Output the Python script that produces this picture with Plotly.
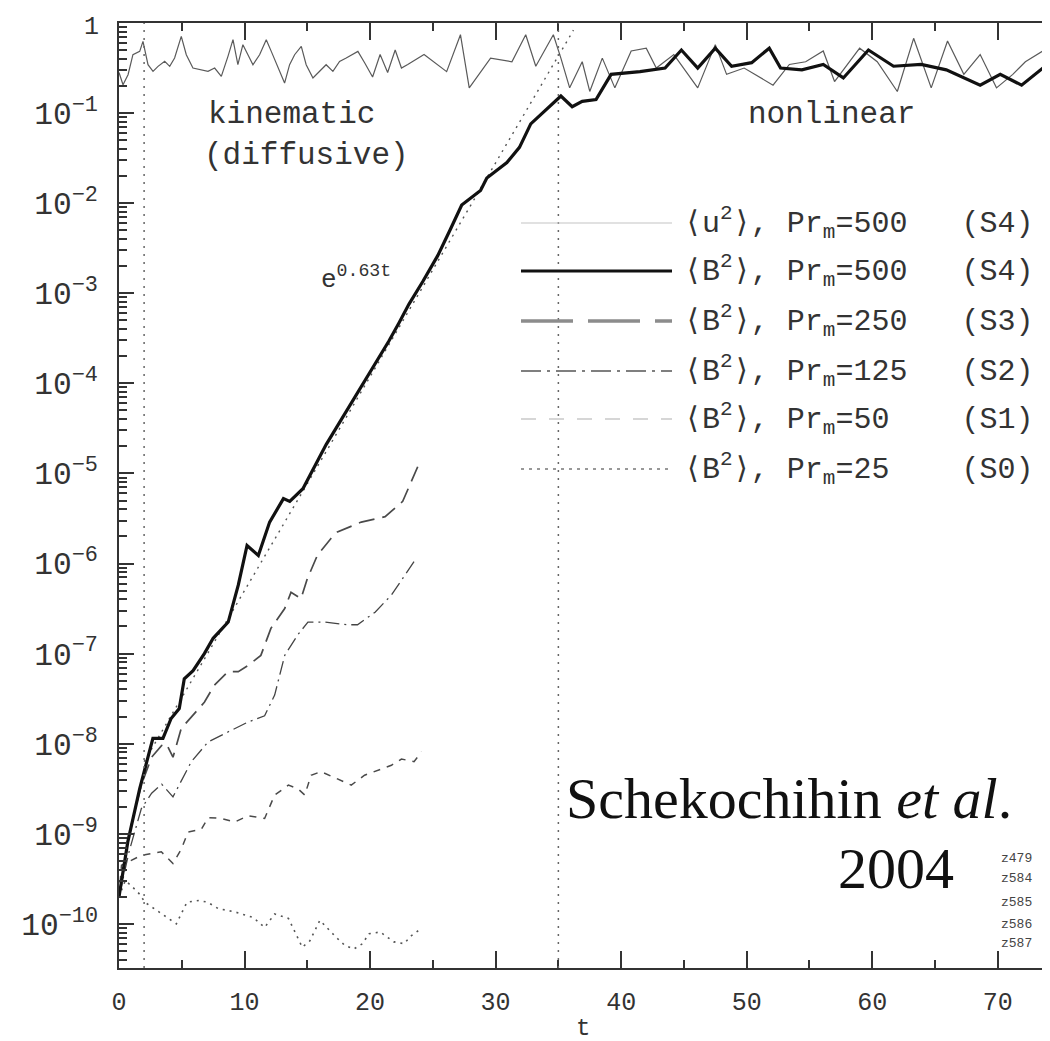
import plotly.graph_objects as go

# ---------------- data (t, log10 of the quantity) ----------------
t_u2 = [0, 0.32, 0.72, 1.11, 1.65, 1.91, 2.31, 2.71, 3.11, 3.64, 4.04, 4.43, 4.96, 5.36, 5.89, 6.42,
        7.09, 7.62, 8.15, 8.68, 9.08, 9.47, 9.87, 10.27, 10.67, 11.2, 11.73, 12.13, 12.66, 13.19,
        13.59, 13.99, 14.52, 14.91, 15.45, 15.98, 16.5, 17.04, 17.57, 18.1, 19.03, 19.6, 20.2,
        20.8, 21.4, 22.0, 22.5, 23.0, 24.3, 26.1, 27.2, 27.9, 29.6, 31.3, 32.4, 33.2, 34.6, 35.2,
        35.9, 36.9, 37.5, 38.5, 39.5, 40.8, 42.0, 42.8, 44.2, 46.1, 47.5, 48.4, 49.8, 52.1, 53.4,
        54.7, 56.1, 57.0, 59.0, 60.4, 62.0, 63.3, 64.7, 66.0, 67.3, 68.6, 69.9, 71.2, 72.2, 73.6, 74.8]
u2_log = [-0.55, -0.685, -0.574, -0.352, -0.315, -0.204, -0.463, -0.537, -0.481, -0.426, -0.481,
          -0.389, -0.148, -0.352, -0.5, -0.519, -0.537, -0.5, -0.593, -0.37, -0.185, -0.463, -0.241,
          -0.352, -0.463, -0.352, -0.185, -0.315, -0.5, -0.667, -0.463, -0.352, -0.259, -0.463,
          -0.611, -0.537, -0.463, -0.537, -0.426, -0.389, -0.315, -0.45, -0.6, -0.35, -0.55, -0.3,
          -0.5, -0.46, -0.35, -0.54, -0.13, -0.72, -0.39, -0.43, -0.13, -0.48, -0.13, -0.39, -0.72,
          -0.43, -0.76, -0.39, -0.72, -0.31, -0.28, -0.5, -0.35, -0.72, -0.24, -0.57, -0.5, -0.69,
          -0.46, -0.43, -0.31, -0.65, -0.28, -0.43, -0.76, -0.17, -0.72, -0.2, -0.57, -0.35, -0.72,
          -0.57, -0.43, -0.31, -0.5]

t_s4 = [0, 0.7, 1.65, 2.44, 2.7, 3.5, 4.15, 4.8, 5.2, 5.9, 6.8, 7.5, 8.7, 9.5, 10.2, 11.1, 12.0,
        13.1, 13.6, 14.65, 15.5, 16.5, 17.5, 18.5, 19.5, 20.5, 21.5, 22.3, 23.1, 24.2, 25.4, 26.4,
        27.3, 28.8, 29.3, 30.9, 31.9, 32.8, 34.1, 35.2, 36.1, 36.9, 38.0, 39.2, 41.5, 43.5, 44.8,
        46.1, 47.5, 48.8, 50.4, 51.8, 52.7, 54.4, 56.1, 57.7, 59.7, 61.7, 63.9, 65.9, 68.6, 70.2,
        71.9, 73.6, 74.8]
s4_log = [-9.7, -9.09, -8.5, -8.09, -7.94, -7.94, -7.72, -7.61, -7.28, -7.19, -7.0, -6.83, -6.65,
          -6.24, -5.8, -5.91, -5.54, -5.28, -5.31, -5.17, -4.95, -4.68, -4.45, -4.22, -4.0, -3.77,
          -3.53, -3.33, -3.12, -2.87, -2.58, -2.29, -2.02, -1.86, -1.72, -1.55, -1.38, -1.12, -0.95,
          -0.81, -0.93, -0.87, -0.85, -0.57, -0.54, -0.5, -0.3, -0.5, -0.28, -0.48, -0.44, -0.28,
          -0.5, -0.52, -0.46, -0.61, -0.3, -0.48, -0.46, -0.52, -0.69, -0.57, -0.69, -0.5, -0.57]

t_s3 = [0, 0.8, 1.8, 2.6, 3.4, 3.77, 4.3, 4.96, 6.8, 7.6, 8.68, 9.5, 10.3, 11.3, 12.1, 13.2, 13.7,
        14.5, 15.0, 15.8, 16.9, 17.4, 19.3, 21.2, 22.6, 24.0]
s3_log = [-9.7, -9.0, -8.45, -8.15, -8.02, -8.0, -8.15, -7.83, -7.54, -7.35, -7.2, -7.2, -7.13,
          -7.02, -6.72, -6.5, -6.32, -6.39, -6.17, -5.91, -5.72, -5.65, -5.54, -5.48, -5.31, -4.86]

t_s2 = [0, 0.8, 1.78, 2.6, 3.4, 4.3, 5.76, 7.1, 8.68, 10.27, 11.6, 12.4, 13.2, 14.25, 15.05, 16.4,
        18.2, 19.0, 20.4, 21.7, 23.5]
s2_log = [-9.7, -9.2, -8.72, -8.55, -8.45, -8.59, -8.2, -7.98, -7.87, -7.76, -7.69, -7.46, -7.02,
          -6.79, -6.65, -6.65, -6.68, -6.68, -6.54, -6.35, -5.98]

t_s1 = [0, 0.2, 1.78, 3.37, 4.3, 4.96, 5.5, 6.56, 7.1, 8.15, 9.2, 10.3, 11.6, 12.4, 13.5, 14.25,
        14.8, 15.3, 16.1, 17.4, 18.5, 19.56, 20.4, 21.7, 22.5, 23.5, 24.1]
s1_log = [-9.7, -9.35, -9.24, -9.2, -9.33, -9.17, -8.98, -8.95, -8.82, -8.83, -8.87, -8.8, -8.83,
          -8.57, -8.46, -8.5, -8.57, -8.35, -8.31, -8.39, -8.46, -8.35, -8.31, -8.24, -8.17, -8.2,
          -8.09]

t_s0 = [0, 0.5, 1.0, 1.64, 2.06, 3.45, 4.57, 5.41, 6.37, 7.06, 7.9, 9.3, 10.7, 11.6, 12.4, 13.5,
        14.6, 15.2, 16.0, 17.3, 18.0, 18.7, 19.4, 19.9, 20.8, 21.9, 22.7, 23.3, 24.0]
s0_log = [-9.7, -9.52, -9.58, -9.67, -9.76, -9.89, -10.0, -9.76, -9.74, -9.76, -9.83, -9.87, -9.93,
          -10.04, -9.89, -9.94, -10.26, -10.19, -9.96, -10.15, -10.24, -10.28, -10.22, -10.11,
          -10.09, -10.2, -10.22, -10.13, -10.06]

# exponential fit e^{0.63 t}: two end points
t_fit = [2.0, 36.2]
fit_log = [-8.2, -0.08]

phase_boundaries = [2, 35]

legend_labels = [
    "⟨u<sup>2</sup>⟩, Pr<sub>m</sub>=500\u00a0\u00a0\u00a0(S4)",
    "⟨B<sup>2</sup>⟩, Pr<sub>m</sub>=500\u00a0\u00a0\u00a0(S4)",
    "⟨B<sup>2</sup>⟩, Pr<sub>m</sub>=250\u00a0\u00a0\u00a0(S3)",
    "⟨B<sup>2</sup>⟩, Pr<sub>m</sub>=125\u00a0\u00a0\u00a0(S2)",
    "⟨B<sup>2</sup>⟩, Pr<sub>m</sub>=50\u00a0\u00a0\u00a0\u00a0(S1)",
    "⟨B<sup>2</sup>⟩, Pr<sub>m</sub>=25\u00a0\u00a0\u00a0\u00a0(S0)",
]
run_ids = ["z479", "z584", "z585", "z586", "z587"]

# ---------------- figure ----------------
W, H = 1050, 1041
L, R, T, B = 111, 0, 15, 81
FONT = "Liberation Mono, DejaVu Sans Mono, monospace"


def pv(vals):
    return [10 ** v for v in vals]


def px(x):
    return (x - L) / (W - L - R)


def py(y):
    return (H - B - y) / (H - T - B)


fig = go.Figure()

curve_styles = [
    (t_u2, u2_log, dict(color="#5a5a5a", width=1.2)),
    (t_s0, s0_log, dict(color="#555555", width=1.6, dash="2px,5px")),
    (t_s1, s1_log, dict(color="#4a4a4a", width=1.5, dash="7px,7px")),
    (t_s2, s2_log, dict(color="#444444", width=1.3, dash="14px,5px,2px,5px")),
    (t_s3, s3_log, dict(color="#4a4a4a", width=1.7, dash="16px,8px")),
    (t_fit, fit_log, dict(color="#555555", width=1.4, dash="2px,5px")),
    (t_s4, s4_log, dict(color="#111111", width=3.2)),
]
for tx, ly, ln in curve_styles:
    fig.add_trace(go.Scatter(x=tx, y=pv(ly), mode="lines", line=ln, showlegend=False,
                             hoverinfo="skip"))

shapes = []
for xb in phase_boundaries:
    shapes.append(dict(type="line", xref="x", yref="paper", x0=xb, x1=xb, y0=0, y1=1,
                       line=dict(color="#666666", width=1.5, dash="2px,6px")))

# manual legend samples
leg_rows = [215, 263, 313, 363, 411, 461]
leg_styles = [
    dict(color="#c4c4c4", width=1.2),
    dict(color="#111111", width=3.2),
    dict(color="#8c8c8c", width=3.4, dash="52px,15px"),
    dict(color="#555555", width=1.3, dash="20px,6px,3px,6px"),
    dict(color="#d6d6d6", width=1.8, dash="15px,13px"),
    dict(color="#777777", width=1.4, dash="3px,5px"),
]
for yr, st in zip(leg_rows, leg_styles):
    shapes.append(dict(type="line", xref="paper", yref="paper", x0=px(513), x1=px(664),
                       y0=py(yr), y1=py(yr), line=st))

annotations = []
for yr, lab in zip(leg_rows, legend_labels):
    annotations.append(dict(text=lab, x=px(674), y=py(yr), xanchor="left", yanchor="middle",
                            font=dict(family=FONT, size=30, color="#333333")))

annotations += [
    dict(text="1", x=px(93), y=py(19), xanchor="right", yanchor="middle",
         font=dict(family=FONT, size=25, color="#333333")),
    dict(text="kinematic", x=px(198), y=py(106), xanchor="left", yanchor="middle",
         font=dict(family=FONT, size=31, color="#333333")),
    dict(text="(diffusive)", x=px(194), y=py(148), xanchor="left", yanchor="middle",
         font=dict(family=FONT, size=31, color="#333333")),
    dict(text="nonlinear", x=px(738), y=py(106), xanchor="left", yanchor="middle",
         font=dict(family=FONT, size=31, color="#333333")),
    dict(text="e<sup>0.63t</sup>", x=px(311), y=py(270), xanchor="left", yanchor="middle",
         font=dict(family=FONT, size=26, color="#333333")),
    dict(text="Schekochihin <i>et al</i>.", x=px(556), y=py(790), xanchor="left",
         yanchor="middle", font=dict(family="Liberation Serif, serif", size=58, color="#111111")),
    dict(text="2004", x=px(828), y=py(860), xanchor="left", yanchor="middle",
         font=dict(family="Liberation Serif, serif", size=58, color="#111111")),
    dict(text="t", x=px(575), y=py(1036), xanchor="center", yanchor="bottom",
         font=dict(family=FONT, size=24, color="#333333")),
]
for i, rid in enumerate(run_ids):
    annotations.append(dict(text=rid, x=px(991), y=py([850, 870, 894, 916, 935][i]),
                            xanchor="left", yanchor="middle",
                            font=dict(family=FONT, size=13, color="#444444")))
for a in annotations:
    a.setdefault("xref", "paper")
    a.setdefault("yref", "paper")
    a.setdefault("showarrow", False)

axis_common = dict(
    showline=True, linecolor="#333333", linewidth=2, mirror="allticks",
    ticks="inside", tickcolor="#333333", tickwidth=1.5,
    showgrid=False, zeroline=False, automargin=False,
    tickfont=dict(family=FONT, size=25, color="#333333"),
)

fig.update_layout(
    width=W, height=H,
    margin=dict(l=L, r=R, t=T, b=B),
    paper_bgcolor="white", plot_bgcolor="white",
    shapes=shapes, annotations=annotations, showlegend=False,
    xaxis=dict(range=[0, 74.8], dtick=10, tick0=0, ticklen=17,
               minor=dict(ticks="inside", dtick=5, ticklen=8, tickcolor="#333333",
                          showgrid=False),
               ticklabelstandoff=10,
               **axis_common),
    yaxis=dict(type="log", range=[-10.49, 0], dtick=1, ticklen=15,
               exponentformat="power", showexponent="all",
               minor=dict(ticks="inside", ticklen=8, tickcolor="#333333", showgrid=False),
               ticklabelstandoff=14,
               **axis_common),
)

fig.write_html("out.html")
